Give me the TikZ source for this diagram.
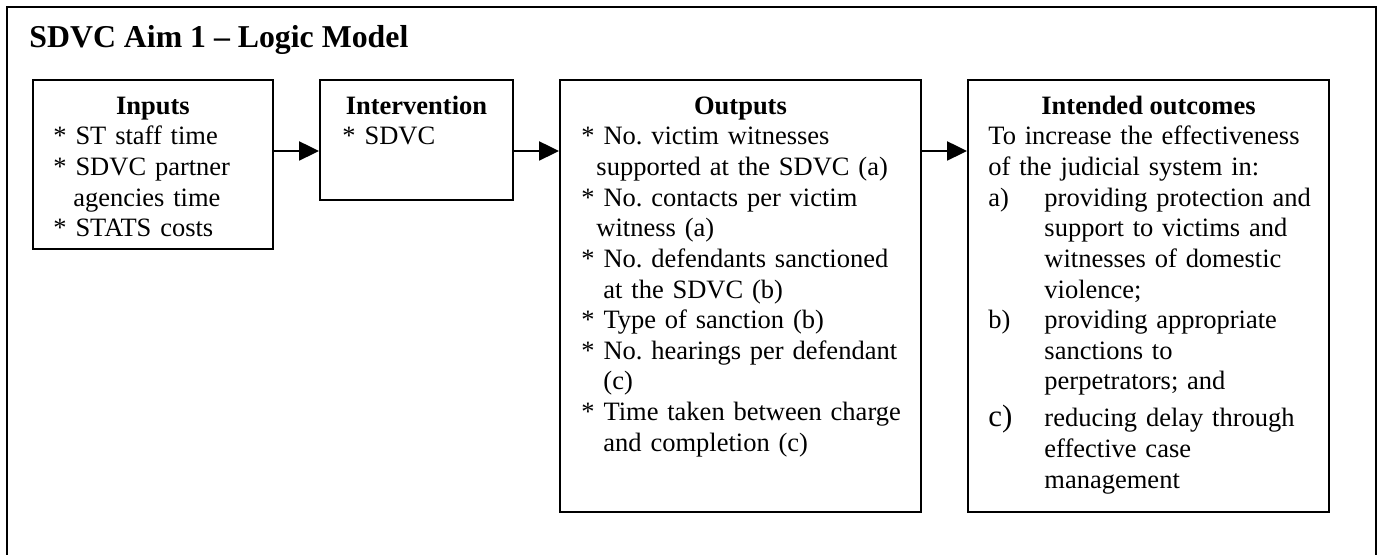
\documentclass[tikz,border=0pt]{standalone}
\usepackage{fontspec}
\setmainfont{Liberation Serif}
\usetikzlibrary{arrows.meta}
\frenchspacing
\def\U{0.45283pt}
\newlength{\lblw}\setlength{\lblw}{25.36pt}
\newlength{\indA}\setlength{\indA}{6.8pt}
\newlength{\indB}\setlength{\indB}{9.96pt}
\newcommand{\bulx}{{*}~}
\begin{document}
\begin{tikzpicture}[x=0.45283pt, y=-0.45283pt,
  box/.style={draw, line width=0.9pt, inner sep=0pt, anchor=north west},
  hdr/.style={font=\fontsize{12}{13.86}\selectfont\bfseries, anchor=base, inner sep=0pt},
  body/.style={font=\fontsize{12}{13.86}\selectfont, anchor=base west, inner sep=0pt, align=left},
  arr/.style={line width=0.9pt, -{Triangle[length=9pt, width=8.6pt]}},
  frame/.style={line width=1.1pt}
]
\useasboundingbox (0,0) rectangle (1380,555);
\fill[white] (0,0) rectangle (1380,555);
\draw[frame] (7,555) -- (7,7) -- (1376,7) -- (1376,555);

\node[anchor=base west, font=\fontsize{14.4}{16}\selectfont\bfseries, inner sep=0pt] (title) at (29,48) {SDVC Aim 1 – Logic Model};

\node[box, minimum width=240*\U, minimum height=169*\U] (inputs) at (32,79) {};
\node[box, minimum width=193*\U, minimum height=120*\U] (interv) at (319,79) {};
\node[box, minimum width=361*\U, minimum height=432*\U] (outputs) at (559,79) {};
\node[box, minimum width=361*\U, minimum height=432*\U] (outcomes) at (967,79) {};

\node[hdr] (hin) at ([yshift=-36*\U]inputs.north) {Inputs};
\node[hdr] (hiv) at ([yshift=-36*\U]interv.north) {Intervention};
\node[hdr] (hout) at ([yshift=-36*\U]outputs.north) {Outputs};
\node[hdr] (hoc) at ([yshift=-36*\U]outcomes.north) {Intended outcomes};

\node[body, text width=215*\U] (tin) at ([shift={(21,66)}]inputs.north west) {%
\bulx ST staff time\\
\bulx SDVC partner\\
\hspace*{9pt}agencies time\\
\bulx STATS costs};

\node[body, text width=165*\U] (tiv) at ([shift={(23,66)}]interv.north west) {\bulx SDVC};

\node[body, text width=335*\U] (tout) at ([shift={(22,66)}]outputs.north west) {%
\bulx No. victim witnesses\\
\hspace*{\indA}supported at the SDVC (a)\\
\bulx No. contacts per victim\\
\hspace*{\indA}witness (a)\\
\bulx No. defendants sanctioned\\
\hspace*{\indB}at the SDVC (b)\\
\bulx Type of sanction (b)\\
\bulx No. hearings per defendant\\
\hspace*{\indB}(c)\\
\bulx Time taken between charge\\
\hspace*{\indB}and completion (c)};

\node[body, text width=335*\U] (toc) at ([shift={(21,66)}]outcomes.north west) {%
To increase the effectiveness\\
of the judicial system in:\\
\makebox[\lblw][l]{a)}providing protection and\\
\hspace*{\lblw}support to victims and\\
\hspace*{\lblw}witnesses of domestic\\
\hspace*{\lblw}violence;\\
\makebox[\lblw][l]{b)}providing appropriate\\
\hspace*{\lblw}sanctions to\\
\hspace*{\lblw}perpetrators; and\\[2.9pt]
\makebox[\lblw][l]{\fontsize{14}{14}\selectfont c)}reducing delay through\\
\hspace*{\lblw}effective case\\
\hspace*{\lblw}management};

\path (inputs.north east) ++(0,72) coordinate (a1);
\path (interv.north east) ++(0,72) coordinate (a2);
\path (outputs.north east) ++(0,72) coordinate (a3);
\draw[arr] (a1) -- (a1 -| interv.west);
\draw[arr] (a2) -- (a2 -| outputs.west);
\draw[arr] (a3) -- (a3 -| outcomes.west);
\end{tikzpicture}
\end{document}
